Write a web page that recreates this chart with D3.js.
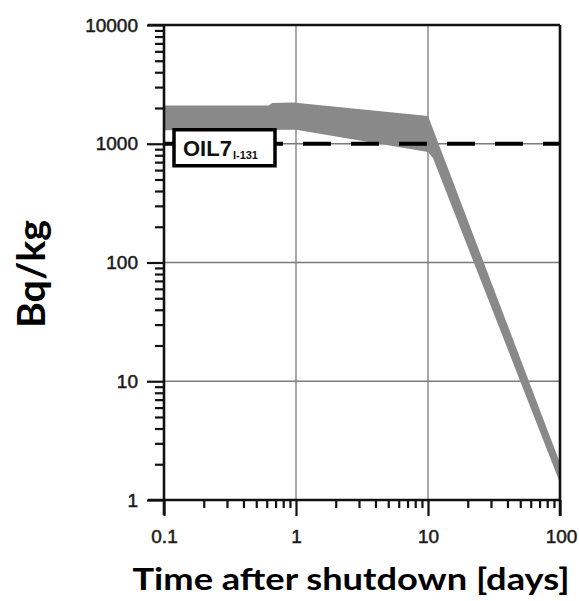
<!DOCTYPE html>
<html>
<head>
<meta charset="utf-8">
<script src="https://cdn.jsdelivr.net/npm/d3@7"></script>
<style>
  html, body { margin: 0; padding: 0; background: #fff; }
  svg { display: block; }
</style>
</head>
<body>
<svg id="chart" width="579" height="601"></svg>
<script>
// ---- data ----
const xMajorTicks = [0.1, 1, 10, 100];
const xTickLabels = ["0.1", "1", "10", "100"];
const yMajorTicks = [1, 10, 100, 1000, 10000];
const yTickLabels = ["1", "10", "100", "1000", "10000"];
const xGrid = [1, 10];
const yGrid = [10, 100, 1000];
// upper edge of the shaded band (time in days, Bq/kg)
const upperTime = [0.1, 0.62, 0.66, 0.95, 10, 100];
const upperValue = [2100, 2100, 2200, 2230, 1714, 2.05];
// lower edge of the shaded band
const lowerTime = [0.1, 1, 10, 10.9, 100];
const lowerValue = [1300, 1310, 853, 759, 1.39];
// OIL7 level for I-131
const oilLevel = 1000;
const oilLabel = "OIL7";
const oilSub = "I-131";
const xTitle = "Time after shutdown [days]";
const yTitle = "Bq/kg";

// ---- scales ----
const svg = d3.select("#chart");
const x = d3.scaleLog().domain([0.1, 100]).range([164, 560]);
const y = d3.scaleLog().domain([1, 10000]).range([500, 25]);

const minorX = [];
[0.1, 1, 10].forEach(d => { for (let k = 2; k <= 9; k++) minorX.push(d * k); });
const minorY = [];
[1, 10, 100, 1000].forEach(d => { for (let k = 2; k <= 9; k++) minorY.push(d * k); });

// ---- grid ----
const grid = svg.append("g").attr("stroke", "#7a7a7a").attr("stroke-width", 1.3);
grid.selectAll("line.gx").data(xGrid).join("line")
  .attr("x1", d => x(d)).attr("x2", d => x(d))
  .attr("y1", y(10000)).attr("y2", y(1));
grid.selectAll("line.gy").data(yGrid).join("line")
  .attr("x1", x(0.1)).attr("x2", x(100))
  .attr("y1", d => y(d)).attr("y2", d => y(d));

// ---- band ----
const bandPts = upperTime.map((t, i) => [t, upperValue[i]])
  .concat(lowerTime.map((t, i) => [t, lowerValue[i]]).reverse());
svg.append("path")
  .attr("d", d3.line().x(d => x(d[0])).y(d => y(d[1]))(bandPts) + "Z")
  .attr("fill", "#898989");

// ---- OIL7 dashed line ----
svg.append("line")
  .attr("x1", x(0.1)).attr("x2", x(100))
  .attr("y1", y(oilLevel)).attr("y2", y(oilLevel))
  .attr("stroke", "#000").attr("stroke-width", 4)
  .attr("stroke-dasharray", "28,20").attr("stroke-dashoffset", 5);

// ---- axes ----
const tickFont = "'Liberation Sans', Arial, sans-serif";
const yMinorAxis = svg.append("g").attr("transform", `translate(${x(0.1)},0)`)
  .call(d3.axisLeft(y).tickValues(minorY).tickSize(9).tickFormat(""));
const yMajorAxis = svg.append("g").attr("transform", `translate(${x(0.1)},0)`)
  .call(d3.axisLeft(y).tickValues(yMajorTicks).tickSize(17).tickPadding(9)
    .tickFormat((d, i) => yTickLabels[i]));
const xMinorAxis = svg.append("g").attr("transform", `translate(0,${y(1)})`)
  .call(d3.axisBottom(x).tickValues(minorX).tickSize(8).tickFormat(""));
const xMajorAxis = svg.append("g").attr("transform", `translate(0,${y(1)})`)
  .call(d3.axisBottom(x).tickValues(xMajorTicks).tickSize(16).tickPadding(14)
    .tickFormat((d, i) => xTickLabels[i]));

[yMinorAxis, yMajorAxis, xMinorAxis, xMajorAxis].forEach(g => {
  g.select(".domain").remove();
  g.selectAll(".tick line").attr("stroke", "#111").attr("stroke-width", 2.2);
  g.selectAll(".tick text")
    .attr("font-family", tickFont).attr("font-size", 19)
    .attr("fill", "#1a1a1a").attr("stroke", "#1a1a1a").attr("stroke-width", 0.5);
});
xMajorAxis.selectAll(".tick text").filter(d => d === 100).attr("dx", 1);

// ---- frame ----
const frame = svg.append("g").attr("stroke", "#111").attr("stroke-width", 2.6).attr("fill", "none");
frame.append("line").attr("x1", x(0.1)).attr("x2", x(0.1)).attr("y1", y(10000)).attr("y2", y(1) + 15);
frame.append("line").attr("x1", x(0.1) - 16).attr("x2", x(100)).attr("y1", y(1)).attr("y2", y(1));
frame.append("line").attr("x1", x(0.1) - 16).attr("x2", x(100)).attr("y1", y(10000)).attr("y2", y(10000));
frame.append("line").attr("x1", x(100)).attr("x2", x(100)).attr("y1", y(10000)).attr("y2", y(1) + 16);

// ---- OIL7 label box ----
const lbl = svg.append("g");
lbl.append("rect")
  .attr("x", x(0.1) + 10).attr("y", y(oilLevel) - 14)
  .attr("width", 101).attr("height", 36)
  .attr("fill", "#fff").attr("stroke", "#000").attr("stroke-width", 3.5);
const lt = lbl.append("text")
  .attr("x", x(0.1) + 19).attr("y", y(oilLevel) + 12)
  .attr("font-family", tickFont).attr("font-weight", "bold")
  .attr("font-size", 22).attr("fill", "#111");
lt.append("tspan").text(oilLabel);
lt.append("tspan").attr("font-size", 11).attr("dy", 3).attr("dx", 1).text(oilSub);

// ---- titles ----
const titleFont = "Lato, 'Open Sans', sans-serif";
svg.append("text")
  .attr("x", 351).attr("y", 590)
  .attr("text-anchor", "middle")
  .attr("font-family", titleFont).attr("font-weight", "bold")
  .attr("font-size", 30).attr("fill", "#000")
  .attr("textLength", 437).attr("lengthAdjust", "spacingAndGlyphs")
  .text(xTitle);
svg.append("text")
  .attr("transform", "translate(45,274) rotate(-90)")
  .attr("text-anchor", "middle")
  .attr("font-family", titleFont).attr("font-weight", "bold")
  .attr("font-size", 39).attr("fill", "#000")
  .attr("textLength", 108).attr("lengthAdjust", "spacingAndGlyphs")
  .text(yTitle);
</script>
</body>
</html>
